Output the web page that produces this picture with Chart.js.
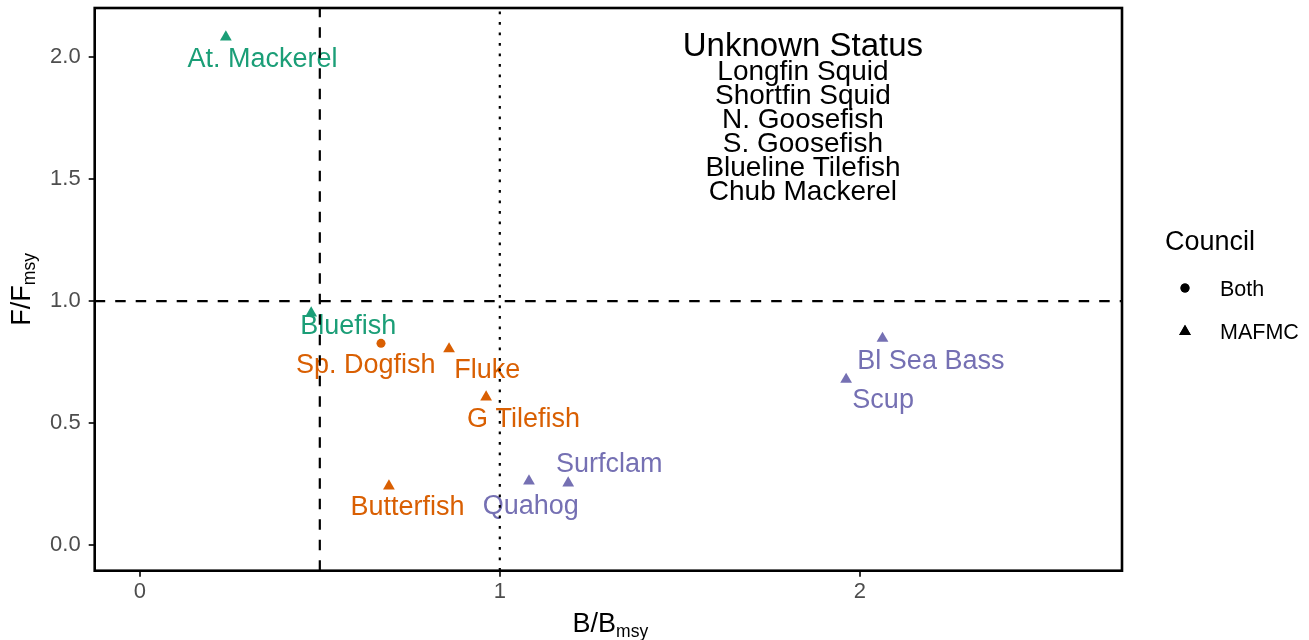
<!DOCTYPE html>
<html>
<head>
<meta charset="utf-8">
<script src="https://cdn.jsdelivr.net/npm/chart.js@4.4.1/dist/chart.umd.min.js"></script>
<style>
  html, body { margin: 0; padding: 0; background: #fff; }
  #wrap { width: 1309px; height: 640px; }
</style>
</head>
<body>
<div id="wrap"><canvas id="kobe" width="1309" height="640"></canvas></div>
<script>
// stock status data
const species = ['At. Mackerel', 'Bluefish', 'Sp. Dogfish', 'Fluke', 'G Tilefish',
                 'Butterfish', 'Quahog', 'Surfclam', 'Bl Sea Bass', 'Scup'];
const bRatio = [0.239, 0.476, 0.670, 0.859, 0.962, 0.692, 1.081, 1.190, 2.063, 1.962];
const fRatio = [2.083, 0.951, 0.827, 0.804, 0.607, 0.242, 0.262, 0.254, 0.847, 0.679];
const council = ['MAFMC', 'MAFMC', 'Both', 'MAFMC', 'MAFMC',
                 'MAFMC', 'MAFMC', 'MAFMC', 'MAFMC', 'MAFMC'];
const status = ['Overfished', 'Overfished', 'Below target', 'Below target', 'Below target',
                'Below target', 'Above target', 'Above target', 'Above target', 'Above target'];
const unknownStatus = ['Longfin Squid', 'Shortfin Squid', 'N. Goosefish',
                       'S. Goosefish', 'Blueline Tilefish', 'Chub Mackerel'];
const councilLevels = ['Both', 'MAFMC'];
const xTicks = [0, 1, 2];
const yTicks = [0, 0.5, 1, 1.5, 2];
const bRef = 0.5, bTarget = 1, fRef = 1;

const FONT = '"Liberation Sans", Arial, Helvetica, sans-serif';
const statusColors = {
    'Overfished': '#1B9E77',
    'Below target': '#D95F02',
    'Above target': '#7570B3'
};

// label placement (pixels from the point, text baseline) - mimics ggrepel output
const labelNudge = {
    'At. Mackerel': [36.7, 29.7],
    'Bluefish':     [37, 21],
    'Sp. Dogfish':  [-15.2, 30],
    'Fluke':        [38.2, 29.3],
    'G Tilefish':   [37.3, 29.7],
    'Butterfish':   [18.5, 29],
    'Quahog':       [1.8, 33],
    'Surfclam':     [41, -11.3],
    'Bl Sea Bass':  [48.4, 30.8],
    'Scup':         [37, 28.8]
};

const shapeFor = c => c === 'Both' ? 'circle' : 'triangle';
const sizeFor = c => c === 'Both' ? 4.5 : 6.8;

const overlay = {
    id: 'overlay',
    afterDatasetsDraw(chart) {
        const { ctx, chartArea: a, scales: { x, y } } = chart;
        const meta = chart.getDatasetMeta(0);

        // point labels
        ctx.save();
        ctx.font = '27px ' + FONT;
        ctx.textAlign = 'center';
        ctx.textBaseline = 'alphabetic';
        meta.data.forEach((pt, i) => {
            const [dx, dy] = labelNudge[species[i]];
            ctx.fillStyle = statusColors[status[i]];
            ctx.fillText(species[i], pt.x + dx, pt.y + dy);
        });
        ctx.restore();

        // reference lines
        ctx.save();
        ctx.beginPath();
        ctx.rect(a.left, a.top, a.right - a.left, a.bottom - a.top);
        ctx.clip();
        ctx.strokeStyle = '#000';
        ctx.lineWidth = 2.2;
        ctx.setLineDash([10.5, 10]);
        ctx.beginPath();
        ctx.moveTo(a.left, y.getPixelForValue(fRef));
        ctx.lineTo(a.right, y.getPixelForValue(fRef));
        ctx.moveTo(x.getPixelForValue(bRef), a.bottom);
        ctx.lineTo(x.getPixelForValue(bRef), a.top);
        ctx.stroke();
        ctx.setLineDash([2.6, 7.9]);
        ctx.beginPath();
        ctx.moveTo(x.getPixelForValue(bTarget), a.bottom);
        ctx.lineTo(x.getPixelForValue(bTarget), a.top);
        ctx.stroke();
        ctx.restore();

        // unknown status block
        ctx.save();
        ctx.fillStyle = '#000';
        ctx.textAlign = 'center';
        const cx = x.getPixelForValue(1.842);
        ctx.font = '33px ' + FONT;
        ctx.fillText('Unknown Status', cx, 56);
        ctx.font = '28px ' + FONT;
        unknownStatus.forEach((s, i) => ctx.fillText(s, cx, 79.5 + i * 24.1));
        ctx.restore();
    },
    afterDraw(chart) {
        const { ctx, chartArea: a } = chart;
        ctx.save();
        // panel border
        ctx.strokeStyle = '#000';
        ctx.lineWidth = 2.6;
        ctx.strokeRect(a.left, a.top, a.right - a.left, a.bottom - a.top);

        // axis titles with subscripts
        ctx.fillStyle = '#000';
        ctx.textBaseline = 'alphabetic';
        const drawTitle = (main, sub) => {
            ctx.font = '27px ' + FONT;
            const w1 = ctx.measureText(main).width;
            ctx.font = '17.5px ' + FONT;
            const w2 = ctx.measureText(sub).width;
            const x0 = -(w1 + w2) / 2;
            ctx.font = '27px ' + FONT;
            ctx.fillText(main, x0, 0);
            ctx.font = '17.5px ' + FONT;
            ctx.fillText(sub, x0 + w1, 5);
        };
        ctx.save();
        ctx.translate((a.left + a.right) / 2 + 2, 631.5);
        drawTitle('B/B', 'msy');
        ctx.restore();
        ctx.save();
        ctx.translate(30, (a.top + a.bottom) / 2);
        ctx.rotate(-Math.PI / 2);
        drawTitle('F/F', 'msy');
        ctx.restore();

        // legend
        ctx.font = '27px ' + FONT;
        ctx.fillText('Council', 1165, 250);
        ctx.font = '21.5px ' + FONT;
        councilLevels.forEach((c, i) => {
            const ly = 288 + i * 43.5;
            Chart.helpers.drawPoint(ctx, {
                pointStyle: shapeFor(c), radius: sizeFor(c), borderWidth: 0
            }, 1185, ly);
            ctx.fill();
            ctx.fillText(c, 1220, ly + 7.5);
        });
        ctx.restore();
    }
};

const points = species.map((s, i) => ({ x: bRatio[i], y: fRatio[i] }));

// no extra padding for half tick labels, the panel box is fixed
const noEdgePad = s => {
    s.paddingTop = 0; s.paddingBottom = 0; s.paddingLeft = 0; s.paddingRight = 0;
};

new Chart(document.getElementById('kobe'), {
    type: 'scatter',
    data: {
        datasets: [{
            data: points,
            pointStyle: c => shapeFor(council[c.dataIndex]),
            pointRadius: c => sizeFor(council[c.dataIndex]),
            pointHoverRadius: c => sizeFor(council[c.dataIndex]),
            backgroundColor: c => statusColors[status[c.dataIndex]],
            borderWidth: 0,
            pointBorderWidth: 0
        }]
    },
    options: {
        responsive: false,
        animation: false,
        devicePixelRatio: 1,
        events: [],
        layout: { autoPadding: false, padding: { top: 8, right: 187, left: 0, bottom: 0 } },
        plugins: { legend: { display: false }, tooltip: { enabled: false } },
        scales: {
            x: {
                type: 'linear',
                min: -0.1253,
                max: 2.7283,
                afterBuildTicks: s => { s.ticks = xTicks.map(v => ({ value: v })); },
                afterFit: s => { s.height = 69.3; noEdgePad(s); },
                border: { display: false },
                grid: { drawOnChartArea: false, drawTicks: true, tickLength: 6, color: '#333333', lineWidth: 2 },
                ticks: { color: '#4D4D4D', font: { family: FONT, size: 22 }, padding: 2, maxRotation: 0,
                         callback: v => String(v) }
            },
            y: {
                type: 'linear',
                min: -0.1054,
                max: 2.2022,
                afterBuildTicks: s => { s.ticks = yTicks.map(v => ({ value: v })); },
                afterFit: s => { s.width = 94.7; noEdgePad(s); },
                border: { display: false },
                grid: { drawOnChartArea: false, drawTicks: true, tickLength: 6, color: '#333333', lineWidth: 2 },
                ticks: { color: '#4D4D4D', font: { family: FONT, size: 22 }, padding: 8,
                         callback: v => v.toFixed(1) }
            }
        }
    },
    plugins: [overlay]
});
</script>
</body>
</html>
